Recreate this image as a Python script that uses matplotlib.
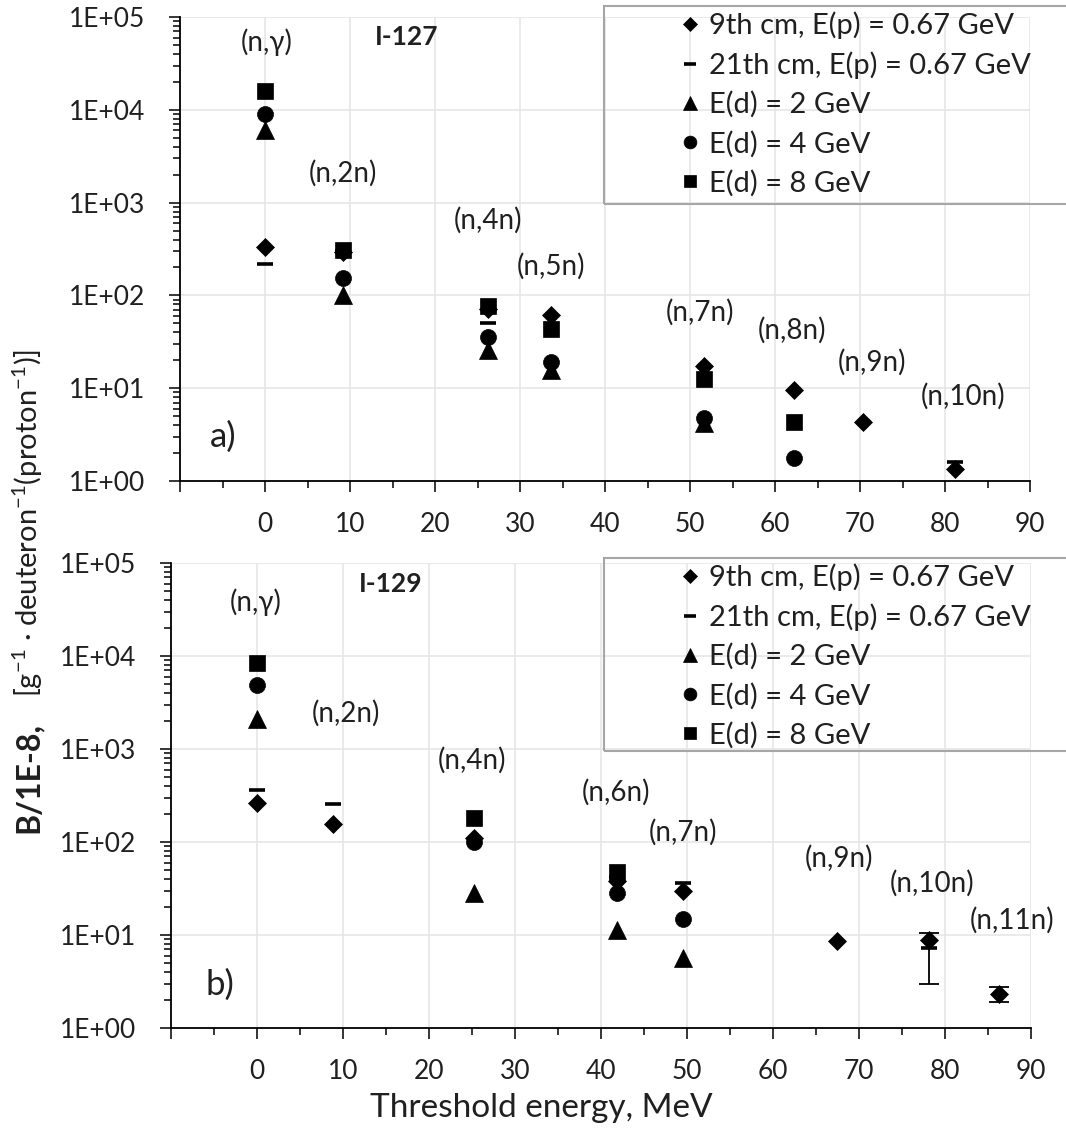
import matplotlib.pyplot as plt
import numpy as np
from matplotlib.ticker import FixedLocator, FuncFormatter, LogLocator, NullFormatter
from matplotlib.patches import Rectangle
from matplotlib.lines import Line2D

plt.rcParams['font.family'] = ['Lato', 'DejaVu Sans']
plt.rcParams['mathtext.fontset'] = 'custom'
plt.rcParams['mathtext.rm'] = 'Lato'
plt.rcParams['mathtext.it'] = 'Lato:italic'
plt.rcParams['mathtext.bf'] = 'Lato:bold'

txt = '#202020'

# ---- a) I-127 ----
a_9cm_x = [0, 9.2, 26.2, 33.6, 51.6, 62.2, 70.3, 81.2]
a_9cm_y = [330, 290, 72, 62, 17.5, 9.6, 4.3, 1.35]
a_21cm_x = [0, 9.2, 26.2, 81.2]
a_21cm_y = [220, 300, 50, 1.6]
a_2gev_x = [0, 9.2, 26.2, 33.6, 51.6]
a_2gev_y = [6000, 102, 26, 15.7, 4.2]
a_4gev_x = [0, 9.2, 26.2, 33.6, 51.6, 62.2]
a_4gev_y = [9000, 153, 36, 19.3, 4.8, 1.75]
a_8gev_x = [0, 9.2, 26.2, 33.6, 51.6, 62.2]
a_8gev_y = [15800, 308, 77, 43, 12.6, 4.35]

a_labels = ['(n,γ)', '(n,2n)', '(n,4n)', '(n,5n)', '(n,7n)', '(n,8n)', '(n,9n)', '(n,10n)']
a_lab_x = [0.2, 9.2, 26.2, 33.7, 51.2, 62.0, 71.4, 82.1]
a_lab_y = [54000, 2080, 650, 207, 65, 42, 19.2, 8.1]

# ---- b) I-129 ----
b_9cm_x = [0, 8.8, 25.2, 41.9, 49.5, 67.4, 78.1, 86.3]
b_9cm_y = [260, 156, 110, 38, 30, 8.7, 8.9, 2.32]
b_21cm_x = [0, 8.8, 41.9, 49.5, 78.1]
b_21cm_y = [360, 254, 42, 36.5, 7.2]
b_2gev_x = [0, 25.2, 41.9, 49.5]
b_2gev_y = [2125, 28, 11.2, 5.6]
b_4gev_x = [0, 25.2, 41.9, 49.5]
b_4gev_y = [4850, 101, 28.5, 14.8]
b_8gev_x = [0, 25.2, 41.9]
b_8gev_y = [8500, 179, 48]

b_err_x = [78.1, 86.3]
b_err_y = [7.2, 2.32]
b_err_lo = [4.2, 0.43]
b_err_hi = [3.3, 0.47]

b_labels = ['(n,γ)', '(n,2n)', '(n,4n)', '(n,6n)', '(n,7n)', '(n,9n)', '(n,10n)', '(n,11n)']
b_lab_x = [-0.2, 10.3, 25.0, 41.8, 49.5, 67.7, 78.5, 87.8]
b_lab_y = [37500, 2400, 750, 343, 128, 66, 35.7, 14.4]

legend_names = ['9th cm, E(p) = 0.67 GeV', '21th cm, E(p) = 0.67 GeV',
                'E(d) = 2 GeV', 'E(d) = 4 GeV', 'E(d) = 8 GeV']
styles = [dict(marker='D', ms=9), dict(marker='_', ms=11.5, mew=2.6),
          dict(marker='^', ms=12.5), dict(marker='o', ms=11.5), dict(marker='s', ms=11.5)]

W, H = 1066, 1131
fig = plt.figure(figsize=(W / 100, H / 100), dpi=100)
ax1 = fig.add_axes([180 / W, 1 - 481 / H, 850 / W, 464 / H])
ax2 = fig.add_axes([171 / W, 1 - 1028 / H, 860 / W, 465 / H])


def setup(ax):
    ax.set_yscale('log')
    ax.set_ylim(1, 1e5)
    ax.set_xlim(-10, 90)
    ax.xaxis.set_major_locator(FixedLocator(np.arange(-10, 91, 10)))
    ax.xaxis.set_minor_locator(FixedLocator(np.arange(-5, 90, 10)))
    ax.xaxis.set_major_formatter(FuncFormatter(lambda v, p: '' if v < 0 else '%d' % v))
    ax.yaxis.set_major_locator(LogLocator(base=10, numticks=10))
    ax.yaxis.set_minor_locator(LogLocator(base=10, subs=np.arange(2, 10), numticks=20))
    ax.yaxis.set_minor_formatter(NullFormatter())
    ax.yaxis.set_major_formatter(FuncFormatter(lambda v, p: '1E+%02d' % round(np.log10(v))))
    ax.grid(True, which='major', color='#e6e6e6', lw=1.2)
    ax.set_axisbelow(True)
    for s in ['top', 'right']:
        ax.spines[s].set_visible(False)
    for s in ['left', 'bottom']:
        ax.spines[s].set_linewidth(1.3)
    ax.tick_params(which='major', direction='out', length=8, width=1.1, labelsize=19,
                   labelcolor=txt)
    ax.tick_params(which='minor', direction='out', length=5, width=1.1)
    ax.tick_params(axis='y', which='major', pad=17)
    ax.tick_params(axis='x', which='major', pad=14)


setup(ax1)
setup(ax2)

series_a = [(a_9cm_x, a_9cm_y), (a_21cm_x, a_21cm_y), (a_2gev_x, a_2gev_y),
            (a_4gev_x, a_4gev_y), (a_8gev_x, a_8gev_y)]
series_b = [(b_9cm_x, b_9cm_y), (b_21cm_x, b_21cm_y), (b_2gev_x, b_2gev_y),
            (b_4gev_x, b_4gev_y), (b_8gev_x, b_8gev_y)]

ax2.errorbar(b_err_x, b_err_y, yerr=[b_err_lo, b_err_hi], fmt='none', ecolor='k',
             elinewidth=1.3, capsize=7, capthick=1.3)

for ax, series in [(ax1, series_a), (ax2, series_b)]:
    for (x, y), st in zip(series, styles):
        ax.plot(x, y, ls='none', color='k', mec='k', **({'mew': 0.5} | st))

for lab, x, y in zip(a_labels, a_lab_x, a_lab_y):
    ax1.text(x, y, lab, ha='center', va='center', fontsize=20, color=txt)
for lab, x, y in zip(b_labels, b_lab_x, b_lab_y):
    ax2.text(x, y, lab, ha='center', va='center', fontsize=20, color=txt)

ax1.text(16.7, 61000, 'I-127', ha='center', va='center', fontsize=19, weight='bold', color=txt)
ax2.text(15.5, 60000, 'I-129', ha='center', va='center', fontsize=19, weight='bold', color=txt)
ax1.text(-4.9, 2.98, 'a)', ha='center', va='center', fontsize=25, color=txt)
ax2.text(-4.3, 2.9, 'b)', ha='center', va='center', fontsize=25, color=txt)

# legends with a box running off the right edge
handles = [Line2D([], [], ls='none', color='k', **({'mew': 0.5} | st)) for st in styles]
for top, bottom in [(6, 204), (558, 751)]:
    fig.legend(handles, legend_names, loc='upper left',
               bbox_to_anchor=(667 / W, 1 - (top - 9) / H), frameon=False, borderpad=0,
               fontsize=21, handlelength=0.6, handletextpad=0.35, labelspacing=0.42,
               markerscale=0.8, labelcolor=txt)
    fig.patches.append(Rectangle((604 / W, 1 - bottom / H), 470 / W, (bottom - top) / H,
                                 transform=fig.transFigure, fill=False,
                                 edgecolor='#a6a6a6', lw=1.5))

fig.text(28 / W, 1 - 833 / H, 'B/1E-8,', rotation=90, ha='center', va='bottom',
         fontsize=23, weight='bold', color=txt)
fig.text(28 / W, 1 - 697 / H, '[g$^{-1}$ · deuteron$^{-1}$(proton$^{-1}$)]', rotation=90,
         ha='center', va='bottom', fontsize=21, color=txt)
fig.text(541 / W, 1 - 1108 / H, 'Threshold energy, MeV', ha='center', va='center',
         fontsize=24, color=txt)

fig.savefig('out.png', dpi=100)
